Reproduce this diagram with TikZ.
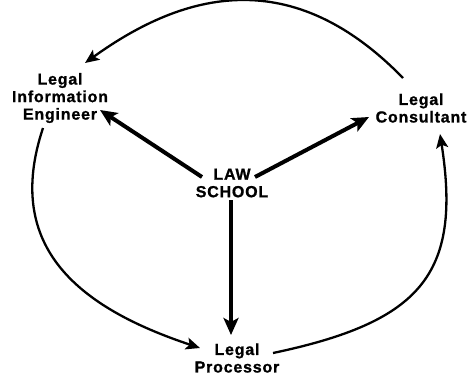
\documentclass[tikz,border=0pt]{standalone}
\usepackage{fontspec}
\setmainfont{Liberation Sans}[LetterSpace=5,BoldFeatures={FakeBold=1}]
\usetikzlibrary{arrows.meta}
\begin{document}
\begin{tikzpicture}[x=1pt,y=-1pt,
  lbl/.style={align=center,inner sep=0pt,font=\bfseries\fontsize{16}{17.5}\selectfont},
  thick arrow/.style={line width=4pt,-{Stealth[length=17pt,width=15pt,inset=4pt]}},
  curve arrow/.style={line width=2.3pt,-{Stealth[length=14pt,width=12pt,inset=3pt]}}]
\useasboundingbox[fill=white] (0,0) rectangle (471,375);
\node[lbl] (ls)  at (232,183) {LAW\\SCHOOL};
\node[lbl] (eng) at (60,98)   {Legal\\Information\\Engineer};
\node[lbl] (con) at (421,108) {Legal\\Consultant};
\node[lbl] (pro) at (237,358) {Legal\\Processor};
% straight arrows
\draw[thick arrow] ([shift={(-30,-6)}]ls.center) -- ([shift={(40,12)}]eng.center);
\draw[thick arrow] ([shift={(23,-6)}]ls.center) -- ([shift={(-52,9)}]con.center);
\draw[thick arrow] ([shift={(-1,17)}]ls.center) -- ([shift={(-6,-23)}]pro.center);
% curved arrows
\draw[curve arrow] ([shift={(-18,-30)}]con.center) .. controls (292,-36) and (185,-9) .. ([shift={(25,-35)}]eng.center);
\draw[curve arrow] ([shift={(-17,30)}]eng.center) .. controls (3,248) and (80,308) .. ([shift={(-37,-10)}]pro.center);
\draw[curve arrow] ([shift={(36,-5)}]pro.center) .. controls (420,322) and (462,275) .. ([shift={(19,26)}]con.center);
\end{tikzpicture}
\end{document}
